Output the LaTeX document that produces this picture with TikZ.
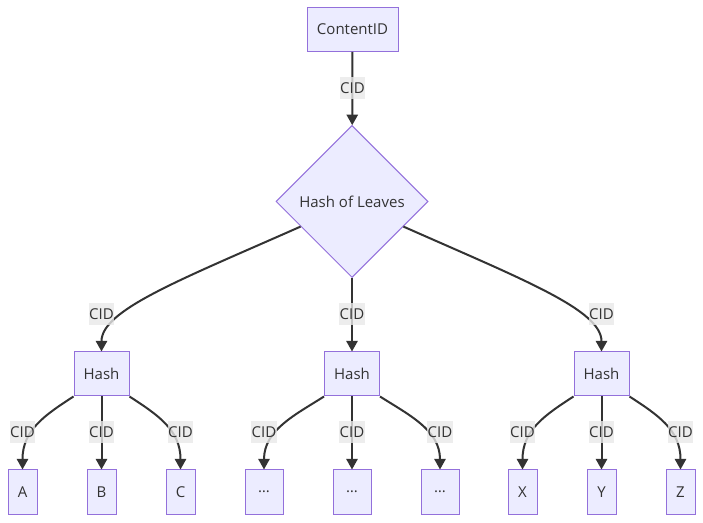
\documentclass[tikz,border=0pt]{standalone}
\usepackage{fontspec}
\setmainfont{Open Sans}
\usetikzlibrary{shapes.geometric,arrows.meta}
\definecolor{nodefill}{HTML}{ECECFF}
\definecolor{nodeline}{HTML}{9370DB}
\definecolor{ink}{HTML}{333333}
\definecolor{lblgray}{HTML}{E8E8E8}
\tikzset{
  box/.style={draw=nodeline, fill=nodefill, line width=0.75pt, text=ink,
    minimum height=33pt, inner sep=0pt, font=\fontsize{11.25}{13}\selectfont},
  diam/.style={diamond, aspect=1, draw=nodeline, fill=nodefill, line width=0.75pt,
    text=ink, minimum size=114pt, inner sep=0pt, font=\fontsize{11.25}{13}\selectfont},
  edge/.style={draw=ink, line width=1.5pt, -{Triangle[length=8pt,width=8.5pt]}},
  lbl/.style={fill=lblgray, fill opacity=0.8, text opacity=1, text=ink,
    inner xsep=0.3pt, inner ysep=0pt, minimum height=16.5pt,
    font=\fontsize{11.25}{13}\selectfont},
}
\begin{document}
\begin{tikzpicture}[x=0.75pt,y=-0.75pt]
\useasboundingbox (0,0) rectangle (703,523);
% nodes
\node[box, minimum width=68.25pt] (cid) at (352.5,29.5) {ContentID};
\node[diam] (hol) at (352,201.5) {Hash of Leaves};
\node[box, minimum width=41.25pt] (h1) at (101.5,374) {Hash};
\node[box, minimum width=41.25pt] (h2) at (352,374) {Hash};
\node[box, minimum width=41.25pt] (h3) at (601.5,374) {Hash};
\node[box, minimum width=21.75pt] (a) at (22.5,492) {A};
\node[box, minimum width=21.75pt] (b) at (101.5,492) {B};
\node[box, minimum width=21.75pt] (c) at (180.5,492) {C};
\node[box, minimum width=28.5pt] (d1) at (264,492) {…};
\node[box, minimum width=28.5pt] (d2) at (352,492) {…};
\node[box, minimum width=28.5pt] (d3) at (440,492) {…};
\node[box, minimum width=21.75pt] (x) at (522.5,492) {X};
\node[box, minimum width=21.75pt] (y) at (601.5,492) {Y};
\node[box, minimum width=21.75pt] (z) at (680.5,492) {Z};
% edges
\draw[edge] (cid) -- (hol);
\draw[edge] (hol.206) .. controls (180,280) and (101.5,310) .. (h1.north);
\draw[edge] (hol) -- (h2);
\draw[edge] (hol.-26) .. controls (524,280) and (601.5,310) .. (h3.north);
\draw[edge] (h1.south west) .. controls (45,415) and (22.5,430) .. (a.north);
\draw[edge] (h1) -- (b);
\draw[edge] (h1.south east) .. controls (158,415) and (180.5,430) .. (c.north);
\draw[edge] (h2.south west) .. controls (295,415) and (264,430) .. (d1.north);
\draw[edge] (h2) -- (d2);
\draw[edge] (h2.south east) .. controls (409,415) and (440,430) .. (d3.north);
\draw[edge] (h3.south west) .. controls (545,415) and (522.5,430) .. (x.north);
\draw[edge] (h3) -- (y);
\draw[edge] (h3.south east) .. controls (658,415) and (680.5,430) .. (z.north);
% labels
\node[lbl] (l0) at (352.5,88) {CID};
\node[lbl] (l1) at (101.5,314) {CID};
\node[lbl] (l2) at (352,314) {CID};
\node[lbl] (l3) at (601.5,314) {CID};
\node[lbl] (l4) at (22.5,432) {CID};
\node[lbl] (l5) at (101.5,432) {CID};
\node[lbl] (l6) at (180.5,432) {CID};
\node[lbl] (l7) at (264,432) {CID};
\node[lbl] (l8) at (352,432) {CID};
\node[lbl] (l9) at (440,432) {CID};
\node[lbl] (l10) at (522.5,432) {CID};
\node[lbl] (l11) at (601.5,432) {CID};
\node[lbl] (l12) at (680.5,432) {CID};
\end{tikzpicture}
\end{document}
